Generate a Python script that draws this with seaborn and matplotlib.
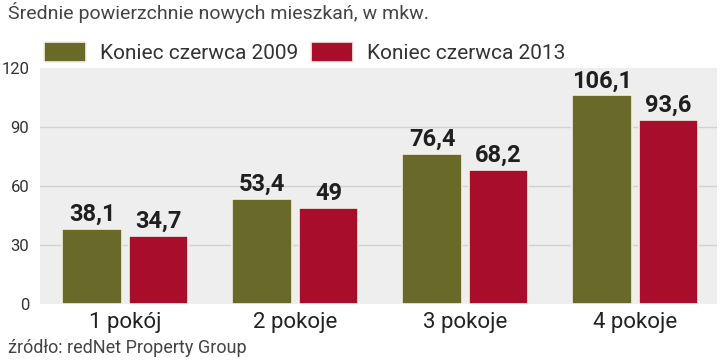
import pandas as pd
import seaborn as sns
import matplotlib
matplotlib.use("Agg")
import matplotlib.pyplot as plt

# Data
rooms = ["1 pokój", "2 pokoje", "3 pokoje", "4 pokoje"]
series = ["Koniec czerwca 2009", "Koniec czerwca 2013"]
values_2009 = [38.1, 53.4, 76.4, 106.1]
values_2013 = [34.7, 49, 68.2, 93.6]
y_ticks = [0, 30, 60, 90, 120]

colors = ["#696a2a", "#a80d2b"]

df = pd.DataFrame({
    "rooms": rooms * 2,
    "period": [series[0]] * 4 + [series[1]] * 4,
    "area": values_2009 + values_2013,
})

sns.set_theme(style="white")
plt.rcParams["font.family"] = ["Roboto", "DejaVu Sans"]

fig = plt.figure(figsize=(7.2, 3.6), dpi=100)
ax = fig.add_axes([0.056, 0.156, 0.94, 0.655])
ax.set_facecolor("#eeeeee")

sns.barplot(data=df, x="rooms", y="area", hue="period", palette=colors,
            saturation=1, width=0.78, gap=0.1, edgecolor="#f4f1e4",
            linewidth=1.2, ax=ax, legend=True, zorder=3)

for c in ax.containers:
    labels = [f"{v:g}".replace(".", ",") for v in c.datavalues]
    ax.bar_label(c, labels=labels, padding=2, fontsize=17, fontweight="bold",
                 color="#1f1f1f")

ax.set_ylim(0, 120)
ax.set_xlim(-0.5, 3.48)
ax.set_yticks(y_ticks)
ax.set_yticklabels([str(t) for t in y_ticks], fontsize=12, color="#333333")
ax.tick_params(axis="y", length=0, pad=8)
ax.tick_params(axis="x", length=0, pad=6, labelsize=16, labelcolor="#222222")
for t in y_ticks[1:-1]:
    ax.axhline(t, color="#d2d2d2", linewidth=1, zorder=1)
for s in ax.spines.values():
    s.set_visible(False)
ax.set_xlabel("")
ax.set_ylabel("")

handles, lbls = ax.get_legend_handles_labels()
ax.get_legend().remove()
fig.legend(handles, lbls, loc="upper left", bbox_to_anchor=(0.035, 0.935),
           ncol=2, frameon=False, fontsize=15, handlelength=2.0,
           handleheight=1.1, handletextpad=0.7, columnspacing=0.6,
           labelcolor="#333333")

fig.text(0.011, 0.965, "Średnie powierzchnie nowych mieszkań, w mkw.",
         fontsize=14, color="#444444", va="center")
fig.text(0.011, 0.032, "źródło: redNet Property Group",
         fontsize=13, color="#444444", va="center")

fig.savefig("out.png", dpi=100)
